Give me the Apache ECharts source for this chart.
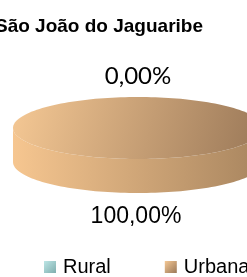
<!DOCTYPE html>
<html><head><meta charset="utf-8">
<script src="https://cdn.jsdelivr.net/npm/echarts@6/dist/echarts.min.js"></script>
<style>html,body{margin:0;padding:0;background:#fff;overflow:hidden}#c{width:247px;height:277px}</style>
</head><body><div id="c"></div>
<script>
const titleText = 'São João do Jaguaribe';
const categories = ['Rural', 'Urbana'];
const values = [0, 100];

const topColors = [['#BDE6E6', '#7FAEAE'], ['#F5C894', '#9A7858']];
const sideColors = [['#B5DEDE', '#86B4B4'], ['#F6C690', '#A8855F']];
const labelFonts = ['24px Lato', '23px "Liberation Sans"'];

const total = values.reduce((a, b) => a + b, 0);
let acc = 0;
const slices = values.map(v => { const s = acc / total * 360; acc += v; return [s, acc / total * 360]; });
const pct = values.map(v => (v / total * 100).toFixed(2).replace('.', ',') + '%');

const CX = 138, CY = 128, RX = 125, RY = 31, DEPTH = 34;
function pt(deg, dy) {
  const r = deg * Math.PI / 180;
  return [CX + RX * Math.sin(r), CY - RY * Math.cos(r) + (dy || 0)];
}
function arc(a, b, dy) {
  const pts = [];
  const n = Math.max(1, Math.ceil(Math.abs(b - a) / 2));
  for (let i = 0; i <= n; i++) pts.push(pt(a + (b - a) * i / n, dy));
  return pts;
}
const G = echarts.graphic;

function makeSeries(idx) {
  return {
    type: 'custom',
    name: categories[idx],
    coordinateSystem: 'none',
    itemStyle: { color: new G.LinearGradient(0, 0, 1, 1, [{offset: 0, color: topColors[idx][0]}, {offset: 1, color: topColors[idx][1]}]) },
    data: [slices[idx]],
    z: idx === 0 ? 3 : 2,
    renderItem: function (params, api) {
      const a = api.value(0), b = api.value(1);
      const children = [];
      if (b - a > 0) {
        const sa = Math.max(a, 90), sb = Math.min(b, 270);
        if (sb > sa) {
          const top = arc(sa, sb, 0);
          const bot = arc(sb, sa, DEPTH);
          children.push({
            type: 'polygon', shape: { points: top.concat(bot) },
            style: { fill: new G.LinearGradient(0, 0, 1, 0, [{offset: 0, color: sideColors[idx][0]}, {offset: 1, color: sideColors[idx][1]}]) }
          });
        }
        let facePts = arc(a, b, 0);
        if (b - a < 360) facePts = [[CX, CY]].concat(facePts);
        children.push({
          type: 'polygon', shape: { points: facePts },
          style: { fill: new G.LinearGradient(0, 0, 1, 1, [{offset: 0, color: topColors[idx][0]}, {offset: 1, color: topColors[idx][1]}]) }
        });
      }
      const m = (a + b) / 2, mr = m * Math.PI / 180;
      const below = Math.cos(mr) < 0;
      const off = below ? 24 : 21;
      const lx = CX + (RX + off) * Math.sin(mr);
      const ly = CY - (RY + off) * Math.cos(mr) + (below ? DEPTH : 0);
      children.push({
        type: 'text', z2: 10,
        style: { x: lx - (idx === 1 ? 2 : 0), y: ly, text: pct[idx], fill: '#000', font: labelFonts[idx], align: 'center', verticalAlign: 'middle' }
      });
      return { type: 'group', children: children };
    }
  };
}

const chart = echarts.init(document.getElementById('c'), null, { renderer: 'canvas' });
chart.setOption({
  animation: false,
  title: { text: titleText, left: -10, top: 12, textStyle: { fontFamily: 'Liberation Sans', fontWeight: 'bold', fontSize: 19, color: '#000' } },
  legend: {
    data: categories, top: 252, left: 39, width: 500, itemGap: 54, itemWidth: 12, itemHeight: 12, icon: 'rect',
    textStyle: { fontFamily: 'Liberation Sans', fontSize: 20, color: '#000', padding: [0, 0, 0, 2] }
  },
  series: categories.map((c, i) => makeSeries(i))
});
</script></body></html>
